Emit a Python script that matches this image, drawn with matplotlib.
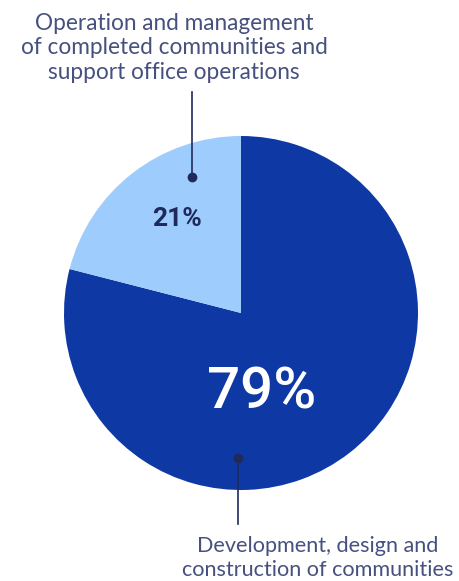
import matplotlib.pyplot as plt

# shares of the chart
shares = [79, 21]
share_labels = ['79%', '21%']
categories = ['Development, design and\nconstruction of communities',
              'Operation and management\nof completed communities and\nsupport office operations']
colors = ['#0E38A3', '#9ECCFC']

W, H = 459, 581
fig = plt.figure(figsize=(W / 100, H / 100), dpi=100)
ax = fig.add_axes([0, 0, 1, 1])

cx, cy, r = 241, H - 313, 177
ax.pie(shares, colors=colors, startangle=90, counterclock=False,
       center=(cx, cy), radius=r, wedgeprops=dict(linewidth=0))
ax.set_xlim(0, W)
ax.set_ylim(0, H)
ax.set_aspect('equal')
ax.axis('off')

label_color = '#47517F'
dark = '#1F2A5C'

# percentage labels
ax.text(262, H - 393, share_labels[0], color='white', fontsize=42,
        fontfamily='Roboto', fontweight='medium', ha='center', va='center')
ax.text(177, H - 219, share_labels[1], color=dark, fontsize=19,
        fontfamily='Roboto', fontweight='bold', ha='center', va='center')

# leader lines with dots
ax.plot([192, 192], [H - 177, H - 92], color=dark, lw=1.2)
ax.plot(192, H - 177, 'o', color=dark, ms=6)
ax.plot([238, 238], [H - 458, H - 524], color=dark, lw=1.2)
ax.plot(238, H - 458, 'o', color=dark, ms=6)

# category labels
ax.text(174, H - 48, categories[1], color=label_color, fontsize=16.3,
        fontfamily='Lato', ha='center', va='center', linespacing=1.22)
ax.text(318, H - 558, categories[0], color=label_color, fontsize=15.6,
        fontfamily='Lato', ha='center', va='center', linespacing=1.22)

fig.savefig('out.png', dpi=100)
